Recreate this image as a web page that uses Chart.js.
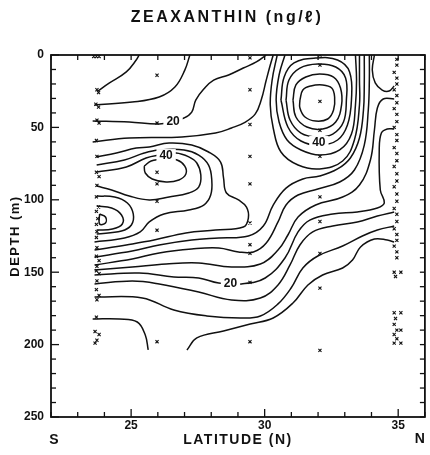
<!DOCTYPE html>
<html lang="en">
<head>
<meta charset="UTF-8">
<title>Zeaxanthin (ng/l) section</title>
<script src="https://cdn.jsdelivr.net/npm/chart.js@4"></script>
<style>
  body { margin: 0; background: #fff; }
  #wrap { width: 430px; height: 455px; }
</style>
</head>
<body>
<div id="wrap"><canvas id="chart" width="430" height="455" style="width:430px;height:455px"></canvas></div>
<script>
// axis ticks
const latTicks = [25, 30, 35];
const depthTicks = [0, 50, 100, 150, 200, 250];

// contour lines, [latitude, depth]
const cTop1 = [[23.75,24.9],[24.19,19.3],[24.82,11.7],[25.19,3.5],[25.30,0]];
const cTop2 = [[23.63,34.5],[25.04,32.5],[26.05,29.0],[26.64,22.1],[27.01,10.4],[27.20,0]];
const c20a = [[23.56,45.6],[24.93,46.3],[26.05,47.7],[26.60,45.6],[26.98,43.5],[27.27,39.4],[27.42,31.1],[27.72,23.5],[28.09,17.3],[28.65,13.8],[29.20,9.0],[29.69,4.8],[30.06,0]];
const cUp4 = [[23.56,60.1],[24.93,57.3],[26.90,56.6],[28.16,53.9],[28.76,50.4],[29.28,46.3],[29.65,40.7],[29.87,31.1],[30.06,17.3],[30.21,6.9],[30.32,0]];

// blob near 26N, 80 m
const cA1 = [[23.71,70.4],[24.45,67.7],[25.19,64.2],[25.68,63.5],[26.42,60.8],[27.27,62.2],[27.90,67.0],[28.35,73.9],[28.46,84.9],[28.57,95.3],[29.02,100.1],[29.32,105.0],[29.39,112.6],[29.20,118.8],[28.16,120.9],[27.05,122.9],[25.86,127.8],[24.82,131.2],[23.63,134.7]];
const cA2 = [[23.71,76.0],[24.75,72.5],[25.49,67.7],[26.05,65.6],[26.98,65.6],[27.53,69.1],[27.90,76.0],[28.02,86.3],[27.98,96.7],[27.72,103.6],[27.16,107.0],[26.23,109.8],[25.68,115.3],[25.34,122.2],[24.75,126.4],[23.63,129.1]];
const c40a = [[23.71,80.8],[24.82,77.3],[25.56,71.1],[26.05,69.1],[26.68,67.7],[27.16,70.4],[27.46,74.6],[27.61,82.9],[27.53,91.2],[27.16,95.3],[26.42,98.1],[25.68,100.1],[24.93,97.4],[24.27,93.2],[23.71,90.5]];
const cA4 = [[25.49,76.7],[25.75,73.2],[26.23,71.8],[26.72,72.5],[27.01,76.7],[27.05,82.2],[26.79,86.3],[26.31,87.7],[25.79,85.6],[25.53,81.5],[25.49,76.7]];

// small high at the southern end, ~110 m
const cB1 = [[23.71,97.4],[24.38,98.1],[24.86,102.2],[25.08,109.8],[25.01,117.4],[24.64,121.5],[23.71,123.6]];
const cB2 = [[23.71,104.3],[24.27,105.7],[24.64,110.5],[24.67,116.7],[24.30,120.2],[23.71,120.9]];
const cB3 = [[23.82,109.8],[24.04,111.9],[24.04,116.0],[23.82,116.7],[23.82,109.8]];

// lines rising from the south at depth towards the surface in the north
const cL1 = [[23.63,139.5],[25.04,135.4],[26.05,131.2],[27.27,127.8],[28.28,126.4],[29.39,125.0],[29.95,118.1],[30.32,103.6],[30.80,91.9],[31.43,85.6],[32.06,83.6],[32.73,78.7],[33.21,71.1],[33.55,57.3],[33.70,38.0],[33.73,20.7],[33.73,0]];
const cL2 = [[23.63,145.0],[25.04,140.9],[26.05,136.7],[27.27,134.0],[28.28,133.3],[29.02,136.0],[29.58,136.0],[30.06,129.8],[30.50,115.3],[30.80,103.6],[31.25,96.7],[31.99,92.5],[32.81,87.7],[33.36,79.4],[33.73,62.2],[33.88,38.0],[33.92,17.3],[33.92,0]];
const cL3 = [[23.63,148.5],[25.04,146.4],[26.31,144.3],[27.53,143.6],[28.76,146.4],[29.84,144.3],[30.50,134.7],[30.87,124.3],[31.25,111.9],[31.91,103.6],[32.92,98.1],[33.55,89.8],[33.96,72.5],[34.11,51.8],[34.22,36.6],[34.44,30.4],[34.85,30.4]];
const c20b = [[23.63,151.9],[25.30,150.6],[26.60,153.3],[27.53,154.0],[28.28,157.5],[29.13,158.1],[30.02,154.0],[30.76,140.2],[31.25,122.2],[31.69,114.0],[32.55,109.8],[33.47,108.4],[34.22,105.7],[34.48,102.2],[34.33,93.2],[34.29,65.6],[34.37,53.9],[34.59,51.1],[34.85,51.1]];
const cL5 = [[23.63,158.1],[25.04,156.1],[26.05,158.1],[27.53,163.7],[28.76,169.2],[29.84,167.8],[30.50,158.8],[30.95,145.0],[31.32,131.2],[31.80,122.2],[32.55,118.1],[33.47,115.3],[34.22,111.2],[34.85,108.4]];
const cL6 = [[23.63,167.1],[25.42,167.8],[26.60,176.1],[27.83,180.2],[29.09,181.6],[29.84,180.2],[30.50,171.9],[30.99,160.9],[31.43,147.1],[31.99,138.8],[32.92,131.9],[33.66,125.0],[34.22,120.9],[34.85,118.1]];
const cL7 = [[27.09,203.7],[27.46,195.4],[28.46,190.6],[29.46,185.8],[30.32,181.6],[31.06,171.3],[31.62,158.8],[32.17,151.9],[32.92,147.1],[33.29,141.6],[33.59,132.6],[34.11,127.1],[34.59,127.8],[34.85,129.1]];
const cDeep = [[23.56,182.3],[24.56,182.3],[25.23,184.4],[25.53,193.4],[25.64,203.7]];

// maximum near 32N, 30 m
const cC1 = [[31.32,31.1],[31.43,24.2],[31.73,21.4],[32.17,20.7],[32.51,22.8],[32.62,29.0],[32.58,38.0],[32.36,44.2],[31.91,45.6],[31.51,42.8],[31.32,36.6],[31.32,31.1]];
const cC2 = [[31.06,31.1],[31.17,20.7],[31.54,15.2],[32.06,13.1],[32.58,15.2],[32.84,22.8],[32.88,34.5],[32.66,46.3],[32.17,51.1],[31.58,49.7],[31.17,42.8],[31.06,31.1]];
const cC3 = [[30.80,31.1],[30.91,17.3],[31.32,9.0],[31.99,6.2],[32.66,8.3],[33.03,15.9],[33.06,31.1],[32.95,46.3],[32.55,54.6],[31.99,56.6],[31.36,53.9],[30.95,44.9],[30.80,31.1]];
const c40b = [[30.61,31.1],[30.73,15.2],[31.10,5.5],[31.91,2.1],[32.73,3.5],[33.18,11.7],[33.25,31.1],[33.10,48.3],[32.73,58.7],[32.06,62.2],[31.36,59.4],[30.87,49.7],[30.61,31.1]];
const cC5 = [[30.76,0],[30.54,13.8],[30.43,31.1],[30.54,46.3],[30.84,58.7],[31.36,65.6],[32.06,69.1],[32.81,65.6],[33.25,54.6],[33.40,34.5],[33.44,17.3],[33.40,0]];
const cC6 = [[30.47,0],[30.28,17.3],[30.21,34.5],[30.32,50.4],[30.61,67.0],[31.25,76.0],[32.06,78.7],[32.92,73.2],[33.36,58.7],[33.55,34.5],[33.55,17.3],[33.55,0]];

// near-surface lobe at the northern end
const cN1 = [[34.11,0],[34.03,10.4],[34.14,19.3],[34.40,24.2],[34.66,24.9],[34.85,21.4]];

const contours = [cTop1, cTop2, c20a, cUp4, cA1, cA2, c40a, cA4, cB1, cB2, cB3,
  cL1, cL2, cL3, c20b, cL5, cL6, cL7, cDeep, cC1, cC2, cC3, c40b, cC5, cC6, cN1];

// contour value labels [text, latitude, depth]
const contourLabels = [['20', 26.57, 45.6], ['40', 26.31, 69.1], ['40', 32.03, 60.1], ['20', 28.72, 157.5]];

// sample positions (x marks)
const st1 = [[23.6,1],[23.7,1],[23.8,1],[23.72,24],[23.78,26],[23.68,34],[23.78,36],[23.72,45],[23.8,47],[23.7,59],[23.72,70],[23.7,81],[23.8,84],[23.72,90],[23.7,98],[23.78,105],[23.7,108],[23.75,113],[23.7,117],[23.72,122],[23.7,126],[23.72,133],[23.7,139],[23.8,142],[23.72,146],[23.7,149],[23.8,151],[23.72,156],[23.7,162],[23.8,166],[23.72,169],[23.7,181],[23.65,191],[23.8,193],[23.72,197],[23.65,199]];
const st2 = [[25.97,14],[25.97,47],[25.97,81],[25.97,89],[25.97,101],[25.97,121],[25.97,198]];
const st3 = [[29.45,2],[29.45,24],[29.45,48],[29.45,70],[29.45,89],[29.45,116],[29.45,131],[29.45,137],[29.45,157],[29.45,198]];
const st4 = [[32.07,0],[32.07,7],[32.07,32],[32.07,52],[32.07,70],[32.07,98],[32.07,115],[32.07,137],[32.07,161],[32.07,204]];
const st5 = [[34.95,3],[34.95,7],[34.85,12],[34.95,16],[34.95,20],[34.85,24],[34.95,28],[34.95,33],[34.85,37],[34.95,41],[34.95,46],[34.85,50],[34.95,55],[34.95,59],[34.85,64],[34.95,68],[34.95,73],[34.85,77],[34.95,82],[34.95,87],[34.85,91],[34.95,96],[34.95,101],[34.85,106],[34.95,110],[34.95,115],[34.85,120],[34.95,124],[34.95,128],[34.85,132],[34.95,136],[34.95,140],[34.85,150],[35.1,150],[34.9,153],[34.85,178],[35.1,178],[34.9,182],[34.85,186],[34.95,190],[35.1,190],[34.85,193],[34.95,196],[34.85,199],[35.1,199]];
const stations = [st1, st2, st3, st4, st5];

const FONT = '"Liberation Sans", Arial, sans-serif';

const toXY = pts => pts.map(p => ({ x: p[0], y: p[1] }));

const datasets = contours.map(c => ({
  data: toXY(c),
  showLine: true,
  borderColor: '#111',
  borderWidth: 1.5,
  pointRadius: 0,
  tension: 0.4,
  fill: false
}));
stations.forEach(s => datasets.push({
  data: toXY(s),
  showLine: false,
  pointStyle: 'crossRot',
  pointRadius: 2.2,
  borderColor: '#111',
  borderWidth: 1.1
}));

function line(ctx, x1, y1, x2, y2) {
  ctx.beginPath(); ctx.moveTo(x1, y1); ctx.lineTo(x2, y2); ctx.stroke();
}

const decor = {
  id: 'decor',
  afterDatasetsDraw(chart) {
    const { ctx, scales: { x, y } } = chart;
    ctx.save();
    ctx.font = 'bold 12px ' + FONT;
    ctx.textAlign = 'center';
    ctx.textBaseline = 'middle';
    contourLabels.forEach(([t, lat, d]) => {
      const px = x.getPixelForValue(lat), py = y.getPixelForValue(d);
      const w = ctx.measureText(t).width + 6;
      ctx.fillStyle = '#fff';
      ctx.fillRect(px - w / 2, py - 6, w, 12);
      ctx.fillStyle = '#111';
      ctx.fillText(t, px, py + 1);
    });
    ctx.restore();
  },
  afterDraw(chart) {
    const { ctx, chartArea: a, scales: { x, y } } = chart;
    ctx.save();
    ctx.strokeStyle = '#111';
    ctx.lineWidth = 1.8;
    ctx.strokeRect(a.left, a.top, a.right - a.left, a.bottom - a.top);

    // inward tick marks, 1 degree and 10 m apart
    ctx.lineWidth = 1.3;
    for (let v = x.min; v <= x.max; v += 1) {
      const px = x.getPixelForValue(v);
      line(ctx, px, a.bottom, px, a.bottom - (v % 5 === 0 ? 8 : 5));
      line(ctx, px, a.top, px, a.top + 5);
    }
    for (let v = y.min; v <= y.max; v += 10) {
      const py = y.getPixelForValue(v);
      line(ctx, a.left, py, a.left + (v % 50 === 0 ? 8 : 5), py);
      line(ctx, a.right, py, a.right - 5, py);
    }

    ctx.fillStyle = '#111';
    ctx.textAlign = 'center';
    ctx.textBaseline = 'middle';
    ctx.font = 'bold 16px ' + FONT;
    ctx.letterSpacing = '2.5px';
    ctx.fillText('ZEAXANTHIN (ng/ℓ)', 227, 18);

    ctx.font = 'bold 14px ' + FONT;
    ctx.letterSpacing = '1.5px';
    ctx.fillText('LATITUDE (N)', (a.left + a.right) / 2, 440);
    ctx.letterSpacing = '0px';
    ctx.fillText('S', a.left + 3, 440);
    ctx.fillText('N', a.right - 5, 439);

    ctx.translate(15, (a.top + a.bottom) / 2);
    ctx.rotate(-Math.PI / 2);
    ctx.font = 'bold 13px ' + FONT;
    ctx.letterSpacing = '1.5px';
    ctx.fillText('DEPTH (m)', 0, 0);
    ctx.restore();
  }
};

new Chart(document.getElementById('chart'), {
  type: 'scatter',
  data: { datasets },
  options: {
    responsive: false,
    animation: false,
    layout: { padding: { top: 55, right: 2, left: 0, bottom: 0 } },
    plugins: { legend: { display: false }, tooltip: { enabled: false }, title: { display: false } },
    scales: {
      x: {
        type: 'linear', min: 22, max: 36,
        grid: { display: false, drawTicks: false },
        border: { display: false },
        afterBuildTicks: s => { s.ticks = latTicks.map(v => ({ value: v })); },
        afterFit: s => { s.height = 38; },
        ticks: { padding: 1, color: '#111', font: { family: FONT, size: 12, weight: 'bold' } }
      },
      y: {
        type: 'linear', min: 0, max: 250, reverse: true,
        grid: { display: false, drawTicks: false },
        border: { display: false },
        afterBuildTicks: s => { s.ticks = depthTicks.map(v => ({ value: v })); },
        afterFit: s => { s.width = 51; },
        ticks: { padding: 7, color: '#111', font: { family: FONT, size: 12, weight: 'bold' } }
      }
    }
  },
  plugins: [decor]
});
</script>
</body>
</html>
